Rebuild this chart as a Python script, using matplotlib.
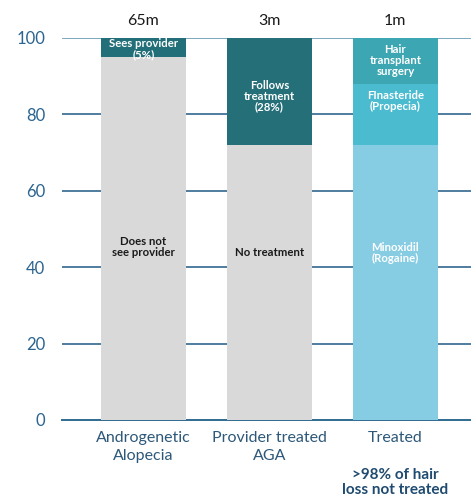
import matplotlib.pyplot as plt

categories = ["Androgenetic\nAlopecia", "Provider treated\nAGA", "Treated"]
totals = ["65m", "3m", "1m"]

# stacked segments per bar, bottom -> top
seg_values = [
    [95, 5],
    [72, 28],
    [72, 16, 12],
]
seg_labels = [
    ["Does not\nsee provider", "Sees provider\n(5%)"],
    ["No treatment", "Follows\ntreatment\n(28%)"],
    ["Minoxidil\n(Rogaine)", "FInasteride\n(Propecia)", "Hair\ntransplant\nsurgery"],
]
seg_colors = [
    ["#d9d9d9", "#236f79"],
    ["#d9d9d9", "#256f79"],
    ["#86cce3", "#4bbcd0", "#3ca6b2"],
]
label_colors = [
    ["#1a1a1a", "white"],
    ["#1a1a1a", "white"],
    ["white", "white", "white"],
]
# where the text sits inside each segment
label_y = [
    [45.3, 97.0],
    [43.8, 84.8],
    [43.8, 83.4, 94.2],
]

plt.rcParams["font.family"] = ["Lato", "DejaVu Sans"]

fig = plt.figure(figsize=(4.71, 5.01), dpi=100)
ax = fig.add_axes([0.1316, 0.1617, 0.8684, 0.7625])

axis_col = "#2f6a8f"
x = [0, 1, 2]
for i in x:
    bottom = 0
    for val, col in zip(seg_values[i], seg_colors[i]):
        ax.bar(i, val, bottom=bottom, width=0.675, color=col, zorder=3)
        bottom += val
    for txt, ty, tc in zip(seg_labels[i], label_y[i], label_colors[i]):
        ax.text(i, ty, txt, ha="center", va="center", fontsize=8.2,
                fontweight="bold", color=tc, linespacing=1.0, zorder=4)
    ax.text(i, 104.5, totals[i], ha="center", va="center", fontsize=11.5,
            color="#1a1a1a", clip_on=False)

ax.set_ylim(0, 100)
ax.set_xlim(-0.645, 2.6)
ax.set_yticks([0, 20, 40, 60, 80, 100])
for yv in [20, 40, 60, 80]:
    ax.axhline(yv, color="#1f5a85", linewidth=1.1, zorder=1)
ax.axhline(100, color="#7ea6c0", linewidth=1.4, zorder=1)

for s in ["top", "right", "left"]:
    ax.spines[s].set_visible(False)
ax.spines["bottom"].set_color(axis_col)
ax.spines["bottom"].set_linewidth(1.4)

ax.tick_params(axis="y", length=0, pad=12, labelsize=12, labelcolor="#2b6490")
ax.tick_params(axis="x", length=0, pad=8, labelsize=11.5, labelcolor="#2d5879")
ax.set_xticks(x)
ax.set_xticklabels(categories, linespacing=1.4)

ax.text(2, -16.3, ">98% of hair\nloss not treated", ha="center", va="center",
        fontsize=11, fontweight="bold", color="#1f4b70", clip_on=False,
        linespacing=1.05)

fig.savefig("out.png", dpi=100)
